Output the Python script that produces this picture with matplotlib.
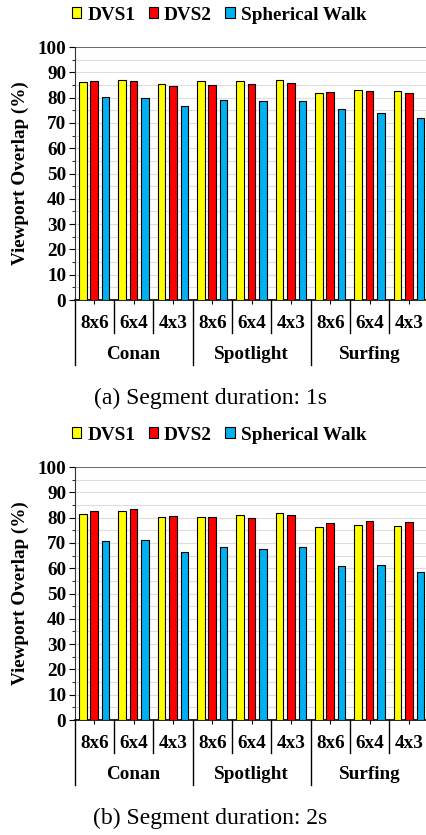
import numpy as np
import matplotlib
matplotlib.use("Agg")
import matplotlib.pyplot as plt
from matplotlib.ticker import MultipleLocator

plt.rcParams['font.family'] = ['Liberation Serif', 'DejaVu Serif']

videos = ['Conan', 'Spotlight', 'Surfing']
tilings = ['8x6', '6x4', '4x3']
series = ['DVS1', 'DVS2', 'Spherical Walk']
colors = ['#FFFF00', '#FF0000', '#00B0F0']

# segment duration 1s
dvs1_1s = [86.1, 86.8, 85.3, 86.4, 86.6, 86.8, 82.0, 83.0, 82.5]
dvs2_1s = [86.4, 86.7, 84.6, 85.1, 85.3, 85.9, 82.1, 82.6, 81.7]
walk_1s = [80.1, 80.0, 76.7, 78.9, 78.6, 78.6, 75.4, 73.9, 71.8]

# segment duration 2s
dvs1_2s = [81.4, 82.8, 80.4, 80.4, 80.9, 81.7, 76.2, 77.0, 76.7]
dvs2_2s = [82.8, 83.3, 80.7, 80.1, 80.0, 80.9, 77.9, 78.6, 78.2]
walk_2s = [70.7, 71.1, 66.6, 68.2, 67.4, 68.2, 60.9, 61.1, 58.4]

captions = ['(a) Segment duration: 1s', '(b) Segment duration: 2s']

FS = 13.8

fig = plt.figure(figsize=(4.26, 8.35), dpi=100)
ax1 = fig.add_axes([0.175, 0.6407, 0.831, 0.303])
ax2 = fig.add_axes([0.175, 0.1377, 0.831, 0.303])


def draw(ax, vals, caption):
    x = np.arange(len(vals[0]))
    offs = [-0.29, 0.0, 0.29]
    for v, c, o, name in zip(vals, colors, offs, series):
        ax.bar(x + o, v, width=0.19, color=c, edgecolor='black',
               linewidth=0.8, label=name, zorder=3)
    ax.set_xlim(-0.5, len(x) - 0.5)
    ax.set_ylim(0, 100)
    ax.yaxis.set_major_locator(MultipleLocator(10))
    ax.yaxis.set_minor_locator(MultipleLocator(5))
    ax.grid(axis='y', which='both', color='#DDDDDD', linewidth=0.8, zorder=0)
    ax.axhline(100, color='#555555', linewidth=1.2, zorder=2)
    for s in ['top', 'right']:
        ax.spines[s].set_visible(False)
    ax.spines['left'].set_color('#333333')
    ax.spines['bottom'].set_linewidth(1.2)
    ax.tick_params(axis='y', which='major', length=4, direction='out',
                   labelsize=FS, pad=2)
    ax.tick_params(axis='y', which='minor', length=2.5, direction='out')
    for lab in ax.get_yticklabels():
        lab.set_fontweight('bold')
    ax.set_xticks(x)
    ax.set_xticklabels([])
    ax.tick_params(axis='x', length=3, direction='out')
    ax.set_ylabel('Viewport Overlap (%)', fontsize=FS, fontweight='bold',
                  labelpad=6)

    tr = ax.get_xaxis_transform()
    # subgroup labels and separators
    for i in range(len(x)):
        ax.text(i, -0.091, tilings[i % 3], transform=tr, ha='center',
                va='center', fontsize=FS, fontweight='bold')
    for i in range(len(x) + 1):
        b = i - 0.5
        y_end = -0.257 if i % 3 == 0 else -0.130
        ax.plot([b, b], [0, y_end], transform=tr, color='black',
                linewidth=1.0, clip_on=False)
    for g, name in enumerate(videos):
        ax.text(g * 3 + 1, -0.217, name, transform=tr, ha='center',
                va='center', fontsize=FS, fontweight='bold')
    ax.text(0.383, -0.387, caption, transform=ax.transAxes, ha='center',
            va='center', fontsize=17)

    leg = ax.legend(loc='center', bbox_to_anchor=(0.408, 1.126), ncol=3,
                    frameon=False, handlelength=0.5, handleheight=0.5,
                    handletextpad=0.3, columnspacing=0.7,
                    prop={'size': FS, 'weight': 'bold'})
    for p in leg.get_patches():
        p.set_linewidth(0.8)


draw(ax1, [dvs1_1s, dvs2_1s, walk_1s], captions[0])
draw(ax2, [dvs1_2s, dvs2_2s, walk_2s], captions[1])

fig.savefig('out.png', dpi=100)
